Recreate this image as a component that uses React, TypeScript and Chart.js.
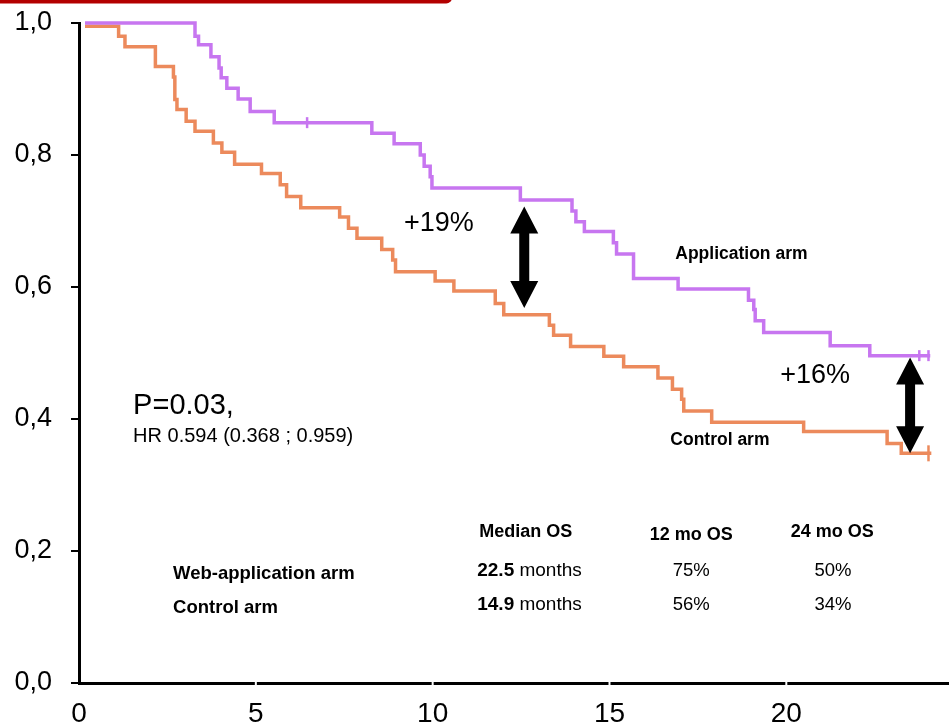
import React, { useEffect, useRef } from "react";
import { Chart, registerables } from "chart.js";

Chart.register(...registerables);

// ---- axis ticks ----
const xTickValues = [0, 5, 10, 15, 20];
const xTickLabels = ["0", "5", "10", "15", "20"];
const yTickValues = [0, 0.2, 0.4, 0.6, 0.8, 1.0];
const yTickLabels = ["0,0", "0,2", "0,4", "0,6", "0,8", "1,0"];

// ---- Application arm (Kaplan-Meier steps) ----
const appTimes = [0.17, 3.28, 3.38, 3.73, 3.96, 4.02, 4.18, 4.5, 4.84, 5.52, 8.28, 8.91, 9.65, 9.76, 9.93, 9.98, 12.48, 13.94, 14.05, 14.29, 15.11, 15.2, 15.68, 16.94, 18.93, 19.08, 19.12, 19.36, 21.24, 22.36, 24.07];
const appSurv = [1.0, 0.98, 0.967, 0.949, 0.932, 0.917, 0.901, 0.885, 0.866, 0.849, 0.833, 0.817, 0.8, 0.783, 0.767, 0.75, 0.732, 0.715, 0.699, 0.684, 0.667, 0.65, 0.613, 0.597, 0.58, 0.566, 0.549, 0.531, 0.511, 0.496, 0.496];
const appCensorTimes = [6.45, 23.76, 24.02];
const appCensorSurv = [0.849, 0.496, 0.496];

// ---- Control arm ----
const ctrlTimes = [0.17, 1.12, 1.3, 2.16, 2.67, 2.71, 2.77, 3.03, 3.28, 3.8, 4.04, 4.4, 5.16, 5.69, 5.87, 6.27, 7.37, 7.62, 7.86, 8.56, 8.87, 8.95, 10.07, 10.6, 11.77, 12.01, 13.3, 13.42, 13.9, 14.84, 15.4, 16.37, 16.78, 17.04, 17.1, 17.89, 20.49, 22.85, 23.25, 24.1];
const ctrlSurv = [0.995, 0.98, 0.964, 0.934, 0.918, 0.884, 0.869, 0.851, 0.836, 0.818, 0.804, 0.786, 0.772, 0.755, 0.737, 0.72, 0.706, 0.689, 0.674, 0.657, 0.641, 0.623, 0.609, 0.594, 0.575, 0.558, 0.542, 0.527, 0.51, 0.495, 0.479, 0.462, 0.445, 0.43, 0.412, 0.395, 0.381, 0.363, 0.348, 0.348];
const ctrlCensorTimes = [24.02];
const ctrlCensorSurv = [0.348];

// ---- difference arrows ----
const arrowX = [12.59, 23.5];
const arrowTop = [0.722, 0.493];
const arrowBottom = [0.568, 0.348];
const arrowLabels = ["+19%", "+16%"];

// ---- texts ----
const armLabels = ["Application arm", "Control arm"];
const pValueText = "P=0.03,";
const hrText = "HR 0.594 (0.368 ; 0.959)";
const tableHeaders = ["Median OS", "12 mo OS", "24 mo OS"];
const tableRows = ["Web-application arm", "Control arm"];
const medianOS = ["22.5", "14.9"];
const os12 = ["75%", "56%"];
const os24 = ["50%", "34%"];

const APP_COLOR = "#c776f0";
const CTRL_COLOR = "#ec8a5c";
const FONT = '"Liberation Sans", Arial, Helvetica, sans-serif';

function pts(xs: number[], ys: number[]) {
  return xs.map((t, i) => ({ x: t, y: ys[i] }));
}

const overlayPlugin = {
  id: "overlay",
  afterDraw(chart: any) {
    const { ctx } = chart;
    const xs = chart.scales.x;
    const ys = chart.scales.y;
    const px = (v: number) => xs.getPixelForValue(v);
    const py = (v: number) => ys.getPixelForValue(v);
    ctx.save();

    // red banner at top
    ctx.fillStyle = "#b30000";
    ctx.beginPath();
    (ctx as any).roundRect(-12, -8, 464, 11.5, 6);
    ctx.fill();

    // white tick notches on the x axis
    ctx.strokeStyle = "#ffffff";
    ctx.lineWidth = 2;
    xTickValues.slice(1).forEach((v) => {
      const X = px(v);
      ctx.beginPath();
      ctx.moveTo(X, ys.bottom - 4);
      ctx.lineTo(X, ys.bottom + 5);
      ctx.stroke();
    });

    // double-headed arrows
    ctx.fillStyle = "#000";
    arrowX.forEach((ax, i) => {
      const cx = px(ax);
      const t = py(arrowTop[i]);
      const b = py(arrowBottom[i]);
      const hw = 14, hl = 27, sw = 5;
      ctx.beginPath();
      ctx.moveTo(cx, t);
      ctx.lineTo(cx + hw, t + hl);
      ctx.lineTo(cx + sw, t + hl);
      ctx.lineTo(cx + sw, b - hl);
      ctx.lineTo(cx + hw, b - hl);
      ctx.lineTo(cx, b);
      ctx.lineTo(cx - hw, b - hl);
      ctx.lineTo(cx - sw, b - hl);
      ctx.lineTo(cx - sw, t + hl);
      ctx.lineTo(cx - hw, t + hl);
      ctx.closePath();
      ctx.fill();
    });

    ctx.textBaseline = "alphabetic";
    ctx.fillStyle = "#000";

    // arrow labels
    ctx.textAlign = "left";
    ctx.font = `27px ${FONT}`;
    ctx.fillText(arrowLabels[0], px(9.19), py(0.685));
    ctx.fillText(arrowLabels[1], px(19.83), py(0.454));

    // arm labels
    ctx.font = `bold 17.5px ${FONT}`;
    ctx.fillText(armLabels[0], px(16.86), py(0.643));
    ctx.fillText(armLabels[1], px(16.72), py(0.36));

    // p value and HR
    ctx.font = `29px ${FONT}`;
    ctx.fillText(pValueText, px(1.53), py(0.407));
    ctx.font = `20px ${FONT}`;
    ctx.fillText(hrText, px(1.53), py(0.365));

    // table headers
    ctx.font = `bold 18px ${FONT}`;
    ctx.textAlign = "left";
    ctx.fillText(tableHeaders[0], px(11.32), py(0.221));
    ctx.textAlign = "center";
    ctx.fillText(tableHeaders[1], px(17.31), py(0.216));
    ctx.fillText(tableHeaders[2], px(21.3), py(0.221));

    // table rows
    const rowY = [0.157, 0.106];
    const valY = [0.162, 0.11];
    tableRows.forEach((r, i) => {
      ctx.textAlign = "left";
      ctx.font = `bold 18.5px ${FONT}`;
      ctx.fillText(r, px(2.66), py(rowY[i]));
      const mx = px(11.26);
      ctx.font = `bold 19px ${FONT}`;
      ctx.fillText(medianOS[i], mx, py(valY[i]));
      const w = ctx.measureText(medianOS[i]).width;
      ctx.font = `19px ${FONT}`;
      ctx.fillText(" months", mx + w, py(valY[i]));
      ctx.textAlign = "center";
      ctx.font = `18.5px ${FONT}`;
      ctx.fillText(os12[i], px(17.31), py(valY[i]));
      ctx.fillText(os24[i], px(21.32), py(valY[i]));
    });

    ctx.restore();
  },
};

export default function App() {
  const canvasRef = useRef<HTMLCanvasElement | null>(null);

  useEffect(() => {
    const canvas = canvasRef.current;
    if (!canvas) return;
    const chart = new Chart(canvas, {
      type: "line",
      data: {
        datasets: [
          {
            label: "Application arm",
            data: pts(appTimes, appSurv),
            borderColor: APP_COLOR,
            borderWidth: 3.5,
            pointRadius: 0,
            stepped: "before",
            fill: false,
            clip: false as any,
          },
          {
            label: "Control arm",
            data: pts(ctrlTimes, ctrlSurv),
            borderColor: CTRL_COLOR,
            borderWidth: 3.5,
            pointRadius: 0,
            stepped: "before",
            fill: false,
            clip: false as any,
          },
          {
            label: "App censored",
            data: pts(appCensorTimes, appCensorSurv),
            showLine: false,
            borderColor: APP_COLOR,
            backgroundColor: APP_COLOR,
            pointStyle: "line",
            rotation: 90,
            pointRadius: 5.5,
            pointBorderWidth: 2.5,
            clip: false as any,
          },
          {
            label: "Control censored",
            data: pts(ctrlCensorTimes, ctrlCensorSurv),
            showLine: false,
            borderColor: CTRL_COLOR,
            backgroundColor: CTRL_COLOR,
            pointStyle: "line",
            rotation: 90,
            pointRadius: 8,
            pointBorderWidth: 2.5,
            clip: false as any,
          },
        ],
      },
      options: {
        animation: false,
        responsive: false,
        layout: { autoPadding: false, padding: { top: 23, left: 0, right: 0, bottom: 0 } },
        plugins: {
          legend: { display: false },
          tooltip: { enabled: false },
        },
        scales: {
          x: {
            type: "linear",
            min: 0,
            max: 24.6,
            afterBuildTicks: (scale: any) => {
              scale.ticks = xTickValues.map((v) => ({ value: v }));
            },
            afterFit: (scale: any) => {
              scale.height = 41;
              scale.paddingLeft = 0;
              scale.paddingRight = 0;
              scale.paddingTop = 0;
              scale.paddingBottom = 0;
            },
            grid: { display: false },
            border: { display: true, color: "#000", width: 3 },
            ticks: {
              color: "#000",
              padding: 6,
              maxRotation: 0,
              font: { family: FONT, size: 28 },
              callback: (v: any) => {
                const i = xTickValues.indexOf(Number(v));
                return i >= 0 ? xTickLabels[i] : "";
              },
            },
          },
          y: {
            type: "linear",
            min: 0,
            max: 1,
            afterBuildTicks: (scale: any) => {
              scale.ticks = yTickValues.map((v) => ({ value: v }));
            },
            afterFit: (scale: any) => {
              scale.width = 79;
              scale.paddingLeft = 0;
              scale.paddingRight = 0;
              scale.paddingTop = 0;
              scale.paddingBottom = 0;
            },
            grid: {
              drawOnChartArea: false,
              drawTicks: true,
              tickLength: 8,
              color: "#000",
              lineWidth: 2,
            },
            border: { display: true, color: "#000", width: 3 },
            ticks: {
              color: "#000",
              padding: 19,
              font: { family: FONT, size: 27 },
              callback: (v: any) => {
                const i = yTickValues.findIndex((t) => Math.abs(t - Number(v)) < 1e-9);
                return i >= 0 ? yTickLabels[i] : "";
              },
            },
          },
        },
      },
      plugins: [overlayPlugin],
    });
    return () => chart.destroy();
  }, []);

  return (
    <div style={{ position: "absolute", left: 0, top: 0, width: 949, height: 724, background: "#fff" }}>
      <canvas ref={canvasRef} width={949} height={724} style={{ display: "block" }} />
    </div>
  );
}
